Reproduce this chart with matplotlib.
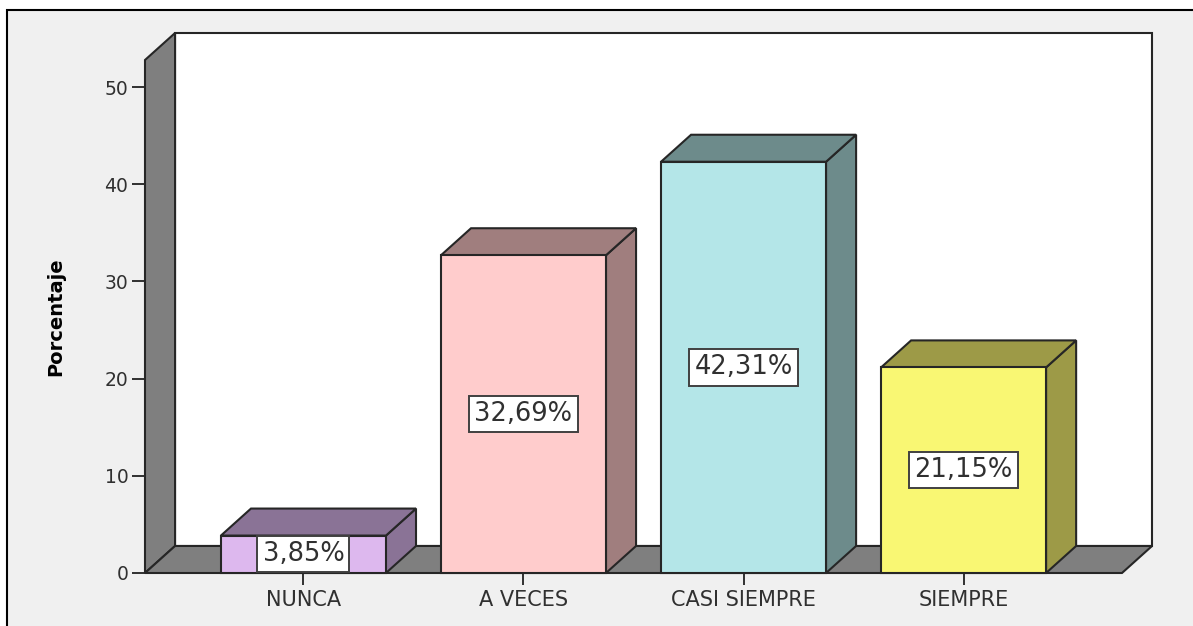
import matplotlib
matplotlib.use("Agg")
import matplotlib.pyplot as plt
from matplotlib.patches import Polygon, Rectangle

# ── Data ───────────────────────────────────────────────────────────────────────
CATEGORIAS = ["NUNCA", "A VECES", "CASI SIEMPRE", "SIEMPRE"]
PORCENTAJES = [3.85, 32.69, 42.31, 21.15]
Y_TICKS = [0, 10, 20, 30, 40, 50]

# Front face / top+side face colours per bar
FRENTE = ["#DDB8EE", "#FFCCCC", "#B4E6E8", "#F9F773"]
LADO = ["#8A7396", "#A07E7E", "#6D8B8B", "#9D9A47"]

WALL = "#7F7F7F"
EDGE = "#262626"
BG = "#F0F0F0"

# 3D look: depth offset in data units, bar width
DX, DY = 0.1366, 2.78
BAR_W = 0.75
XMIN, XMAX = -0.72, 3.72
YTOP = 52.78

W, H = 1193, 626
fig = plt.figure(figsize=(W / 100, H / 100), dpi=100, facecolor="white")

# grey panel with a black frame on top/left
fig.patches.append(Rectangle((7 / W, -0.05), 1.1, 1.05 - 10 / H,
                             transform=fig.transFigure, facecolor=BG,
                             edgecolor="black", linewidth=1.5, zorder=-10))

ax = fig.add_axes([145 / W, 53 / H, (1122 - 145) / W, (573 - 60) / H])
ax.set_xlim(XMIN, XMAX)
ax.set_ylim(0, YTOP)
ax.patch.set_visible(False)
for s in ax.spines.values():
    s.set_visible(False)


def poly(pts, fc, z):
    ax.add_patch(Polygon(pts, closed=True, facecolor=fc, edgecolor=EDGE,
                         linewidth=1.5, joinstyle="miter", clip_on=False,
                         zorder=z))


# back wall, left wall, floor
poly([(XMIN + DX, DY), (XMAX + DX, DY), (XMAX + DX, YTOP + DY),
      (XMIN + DX, YTOP + DY)], "white", 1)
poly([(XMIN, 0), (XMIN + DX, DY), (XMIN + DX, YTOP + DY), (XMIN, YTOP)],
     WALL, 2)
poly([(XMIN, 0), (XMAX, 0), (XMAX + DX, DY), (XMIN + DX, DY)], WALL, 2)

# bars
for i, (v, fc, sc) in enumerate(zip(PORCENTAJES, FRENTE, LADO)):
    x0, x1 = i - BAR_W / 2, i + BAR_W / 2
    poly([(x1, 0), (x1 + DX, DY), (x1 + DX, v + DY), (x1, v)], sc, 3)
    poly([(x0, v), (x1, v), (x1 + DX, v + DY), (x0 + DX, v + DY)], sc, 3)
    poly([(x0, 0), (x1, 0), (x1, v), (x0, v)], fc, 4)
    ax.text(i, v / 2, f"{v:.2f}%".replace(".", ","), ha="center",
            va="center", fontsize=18.5, color="#303030", zorder=5,
            bbox=dict(boxstyle="square,pad=0.2", facecolor="white",
                      edgecolor="#404040", linewidth=1.4))

ax.set_xticks(range(len(CATEGORIAS)))
ax.set_xticklabels(CATEGORIAS)
ax.set_yticks(Y_TICKS)
ax.tick_params(axis="x", length=8.5, width=1.4, color="#303030", pad=4,
               labelsize=15, labelcolor="#303030")
ax.tick_params(axis="y", length=9.5, width=1.4, color="#303030", pad=2.5,
               labelsize=13.5, labelcolor="#303030")
ax.set_ylabel("Porcentaje", fontsize=14, fontweight="bold")
ax.yaxis.set_label_coords(-0.082, 0.5)

fig.savefig("out.png", dpi=100, facecolor=fig.get_facecolor())
